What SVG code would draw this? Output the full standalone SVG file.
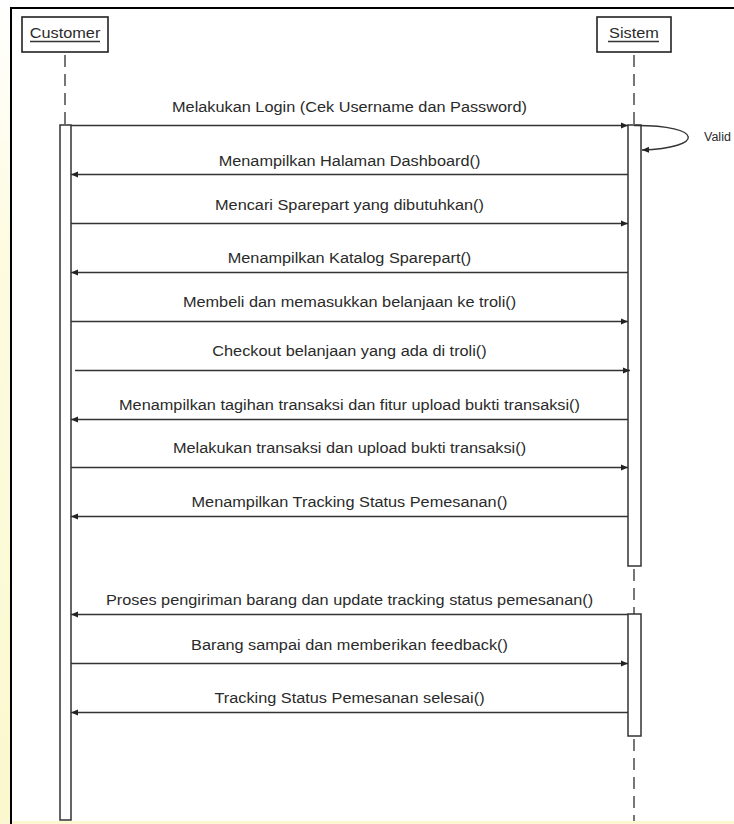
<svg xmlns="http://www.w3.org/2000/svg" width="734" height="824" viewBox="0 0 734 824">
<defs>
  <linearGradient id="side" x1="0" y1="0" x2="0" y2="1">
    <stop offset="0" stop-color="#ffffff"/>
    <stop offset="0.3" stop-color="#fdfbe0"/>
    <stop offset="1" stop-color="#fbf8cf"/>
  </linearGradient>
  <marker id="ah" markerUnits="userSpaceOnUse" markerWidth="8" markerHeight="7" refX="7" refY="3.5" orient="auto">
    <path d="M0,0.5 L7,3.5 L0,6.5 z" fill="#222"/>
  </marker>
  <style>
    .t{font-family:"Liberation Sans",Arial,sans-serif;font-size:14px;fill:#2a2a2a}
    .m{text-anchor:middle}
    .box{fill:#fff;stroke:#222;stroke-width:1.6}
    .ul{stroke:#333;stroke-width:1.3}
    .life{stroke:#555;stroke-width:1.6;stroke-dasharray:12 7;fill:none}
    .bar{fill:#fff;stroke:#333;stroke-width:1.5}
    .msg{stroke:#333;stroke-width:1.4;fill:none;marker-end:url(#ah)}
  </style>
</defs>
<rect x="0" y="0" width="734" height="824" fill="#ffffff"/>
<rect x="0" y="0" width="11" height="824" fill="url(#side)"/>
<rect x="0" y="821" width="734" height="3" fill="#fbf7d2"/>
<path d="M11,824 V8 H734" fill="none" stroke="#000" stroke-width="2"/>

<g id="customer">
  <rect class="box" x="22" y="17" width="86" height="35"/>
  <text class="t m" transform="translate(65 38) scale(1.164 1)">Customer</text>
  <line class="ul" x1="30" y1="41.5" x2="100" y2="41.5"/>
  <line class="life" x1="65" y1="55" x2="65" y2="125"/>
  <rect class="bar" x="60" y="125" width="11" height="695"/>
</g>

<g id="sistem">
  <rect class="box" x="597" y="17" width="74" height="35"/>
  <text class="t m" transform="translate(634 38) scale(1.164 1)">Sistem</text>
  <line class="ul" x1="608" y1="41.5" x2="659" y2="41.5"/>
  <line class="life" x1="634" y1="55" x2="634" y2="125"/>
  <rect class="bar" x="628" y="125" width="13" height="441"/>
  <line class="life" x1="634" y1="569" x2="634" y2="614"/>
  <rect class="bar" x="628" y="614" width="13" height="122"/>
  <line class="life" x1="634" y1="739" x2="634" y2="821"/>
</g>

<g id="connectors">
  <g id="m1"><line class="msg" x1="71" y1="125.5" x2="628" y2="125.5"/>
    <text class="t m" transform="translate(349.5 112) scale(1.164 1)">Melakukan Login (Cek Username dan Password)</text></g>
  <g id="self"><path class="msg" d="M634,125.5 C705,125 705,148 642,150"/>
    <text class="t" x="704" y="141" style="font-size:12.5px">Valid</text></g>
  <g id="m2"><line class="msg" x1="628" y1="174.5" x2="71" y2="174.5"/>
    <text class="t m" transform="translate(349.5 166) scale(1.164 1)">Menampilkan Halaman Dashboard()</text></g>
  <g id="m3"><line class="msg" x1="71" y1="223.5" x2="628" y2="223.5"/>
    <text class="t m" transform="translate(349.5 210) scale(1.164 1)">Mencari Sparepart yang dibutuhkan()</text></g>
  <g id="m4"><line class="msg" x1="628" y1="272.5" x2="71" y2="272.5"/>
    <text class="t m" transform="translate(349.5 263) scale(1.164 1)">Menampilkan Katalog Sparepart()</text></g>
  <g id="m5"><line class="msg" x1="71" y1="321.5" x2="628" y2="321.5"/>
    <text class="t m" transform="translate(349.5 307) scale(1.164 1)">Membeli dan memasukkan belanjaan ke troli()</text></g>
  <g id="m6"><line class="msg" x1="75" y1="370.5" x2="630" y2="370.5"/>
    <text class="t m" transform="translate(349.5 356) scale(1.164 1)">Checkout belanjaan yang ada di troli()</text></g>
  <g id="m7"><line class="msg" x1="628" y1="419.5" x2="71" y2="419.5"/>
    <text class="t m" transform="translate(349.5 410) scale(1.164 1)">Menampilkan tagihan transaksi dan fitur upload bukti transaksi()</text></g>
  <g id="m8"><line class="msg" x1="71" y1="467.5" x2="628" y2="467.5"/>
    <text class="t m" transform="translate(349.5 453) scale(1.164 1)">Melakukan transaksi dan upload bukti transaksi()</text></g>
  <g id="m9"><line class="msg" x1="628" y1="516.5" x2="71" y2="516.5"/>
    <text class="t m" transform="translate(349.5 507) scale(1.164 1)">Menampilkan Tracking Status Pemesanan()</text></g>
  <g id="m10"><line class="msg" x1="628" y1="614.5" x2="71" y2="614.5"/>
    <text class="t m" transform="translate(349.5 605) scale(1.164 1)">Proses pengiriman barang dan update tracking status pemesanan()</text></g>
  <g id="m11"><line class="msg" x1="71" y1="663.5" x2="628" y2="663.5"/>
    <text class="t m" transform="translate(349.5 650) scale(1.164 1)">Barang sampai dan memberikan feedback()</text></g>
  <g id="m12"><line class="msg" x1="628" y1="712.5" x2="71" y2="712.5"/>
    <text class="t m" transform="translate(349.5 703) scale(1.164 1)">Tracking Status Pemesanan selesai()</text></g>
</g>
</svg>
